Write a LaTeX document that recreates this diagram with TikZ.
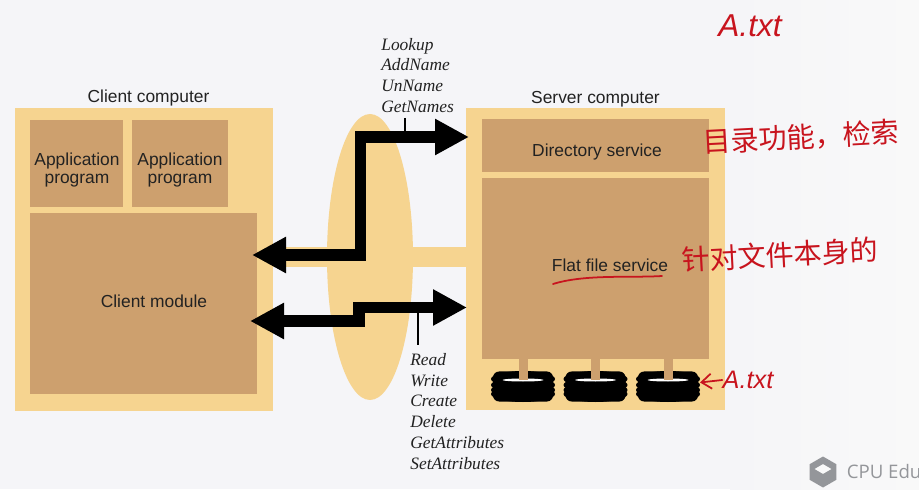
\documentclass[tikz,border=0pt]{standalone}
\usepackage{fontspec}
\setmainfont{Liberation Sans}
\newfontfamily\opsfont{Liberation Serif}
\newfontfamily\cjkfont{Noto Sans CJK SC}
\newfontfamily\markfont{Open Sans}
\usetikzlibrary{arrows.meta, shapes.geometric}

\definecolor{pagebg}{HTML}{F5F5F8}
\definecolor{pagelight}{HTML}{F9F9F9}
\definecolor{outertan}{HTML}{F6D490}
\definecolor{innertan}{HTML}{CDA06E}
\definecolor{penred}{HTML}{C8141E}
\definecolor{markgray}{HTML}{94969A}
\definecolor{labelink}{HTML}{222222}

\tikzset{
    outerbox/.style={fill=outertan, inner sep=0pt},
    innerbox/.style={fill=innertan, inner sep=0pt},
    boxlabel/.style={align=center, text=labelink, font=\fontsize{9.9}{10.8}\selectfont},
    opslabel/.style={align=left, anchor=west, inner sep=0pt, text=labelink, font=\opsfont\itshape\fontsize{9.9}{11.9}\selectfont},
    rmi/.style={line width=.23cm, {Triangle[length=.68cm, width=.68cm]}-{Triangle[length=.68cm, width=.68cm]}},
    leader/.style={line width=.6pt},
    stalk/.style={line width=.18cm, innertan},
    redpen/.style={penred, line width=1pt, line cap=round},
    redtext/.style={text=penred, font=\cjkfont\fontsize{16}{16}\selectfont},
    redlatin/.style={text=penred, inner sep=0pt, font=\itshape\fontsize{#1}{#1}\selectfont}
}

\begin{document}
\begin{tikzpicture}
    \useasboundingbox (0, 0) rectangle (18.38, 9.78);
    \fill[pagebg] (0, 0) rectangle (18.38, 9.78);
    \shade[left color=pagebg, right color=pagelight] (14.6, 0) rectangle (18.38, 9.78);

    % computers
    \node[outerbox, minimum width=5.16cm, minimum height=6.06cm] (client) at (2.88, 4.59) {};
    \node[outerbox, minimum width=5.18cm, minimum height=6.04cm] (server) at (11.91, 4.60) {};
    \node[outerbox, ellipse, minimum width=1.72cm, minimum height=5.72cm] (eye) at (7.40, 4.64) {};
    \draw[line width=.40cm, outertan] (client.east |- eye) -- (server.west |- eye);

    \node[innerbox, minimum width=1.86cm, minimum height=1.74cm] (appone) at (1.53, 6.51) {};
    \node[innerbox, minimum width=1.92cm, minimum height=1.74cm] (apptwo) at (3.60, 6.51) {};
    \node[innerbox, minimum width=4.54cm, minimum height=3.62cm] (module) at (2.87, 3.71) {};
    \node[innerbox, minimum width=4.54cm, minimum height=1.06cm] (directory) at (11.91, 6.87) {};
    \node[innerbox, minimum width=4.54cm, minimum height=3.62cm] (flat) at (11.91, 4.41) {};

    \node[boxlabel] (clientname) at (2.97, 7.82) {Client computer};
    \node[boxlabel] (servername) at (11.91, 7.80) {Server computer};
    \node[boxlabel] (apponename) at (1.54, 6.38) {Application\\program};
    \node[boxlabel] (apptwoname) at (3.60, 6.38) {Application\\program};
    \node[boxlabel] (modulename) at (3.08, 3.76) {Client module};
    \node[boxlabel] (directoryname) at (11.94, 6.74) {Directory service};
    \node[boxlabel] (flatname) at (12.20, 4.48) {Flat file service};

    % disks
    \foreach \dx/\dname in {10.46/a, 11.91/b, 13.36/c} {
        \coordinate (disk\dname) at (\dx, 2.18);
        \fill[black, rounded corners=.12cm] (\dx - .6, 1.75) rectangle (\dx + .6, 2.35);
        \foreach \dy in {.02, -.10, -.20, -.28} {
            \fill[black] (\dx, 2.18 + \dy) ellipse (.64 and .16);
        }
        \fill[white] (disk\dname) ellipse (.41 and .03);
        \draw[stalk] (disk\dname |- flat.south) -- (disk\dname);
    }

    % requests
    \coordinate (upperleft) at (5.04, 4.68);
    \coordinate (upperbend) at (7.21, 7.04);
    \coordinate (upperright) at (9.38, 7.04);
    \coordinate (lowerleft) at (5.00, 3.36);
    \coordinate (lowerbend) at (7.18, 3.63);
    \coordinate (lowerright) at (9.34, 3.63);
    \draw[rmi] (upperleft) -| (upperbend) -- (upperright);
    \draw[rmi] (lowerleft) -| (lowerbend) -- (lowerright);

    \node[opslabel] (dirops) at (7.62, 8.27) {Lookup\\AddName\\UnName\\GetNames};
    \node[opslabel] (flatops) at (8.20, 1.55) {Read\\Write\\Create\\Delete\\GetAttributes\\SetAttributes};
    \coordinate (dirlead) at (8.10, 7.42);
    \coordinate (flatlead) at (8.36, 2.88);
    \draw[leader] (dirlead) -- (dirlead |- upperright);
    \draw[leader] (flatlead) -- (flatlead |- lowerright);

    % handwritten notes
    \node[redlatin=18] (topfile) at (15.00, 9.26) {A.txt};
    \node[redtext, rotate=3] (dirnote) at (16.02, 7.04) {目录功能，检索};
    \node[redtext, rotate=3] (flatnote) at (15.60, 4.68) {针对文件本身的};
    \node[redlatin=14.4] (diskfile) at (14.96, 2.18) {A.txt};
    \coordinate (diskedge) at (14.00, 2.13);
    \draw[redpen, -{Straight Barb[length=.2cm, width=.3cm]}] (diskfile.west) -- (diskedge);
    \coordinate (underfrom) at (11.06, 4.10);
    \coordinate (underto) at (13.24, 4.26);
    \draw[redpen] (underfrom) .. controls (11.7, 4.30) and (12.6, 4.22) .. (underto);

    % watermark
    \node[regular polygon, regular polygon sides=6, shape border rotate=30, fill=markgray, minimum size=.62cm, inner sep=0pt] (marklogo) at (16.46, 0.34) {};
    \node[diamond, fill=pagelight, minimum width=.34cm, minimum height=.2cm, inner sep=0pt] (markinner) at (16.46, 0.40) {};
    \node[anchor=west, text=markgray, inner sep=0pt, font=\markfont\fontsize{10.6}{10.6}\selectfont] (markname) at (16.93, 0.34) {CPU Edu};
\end{tikzpicture}
\end{document}
